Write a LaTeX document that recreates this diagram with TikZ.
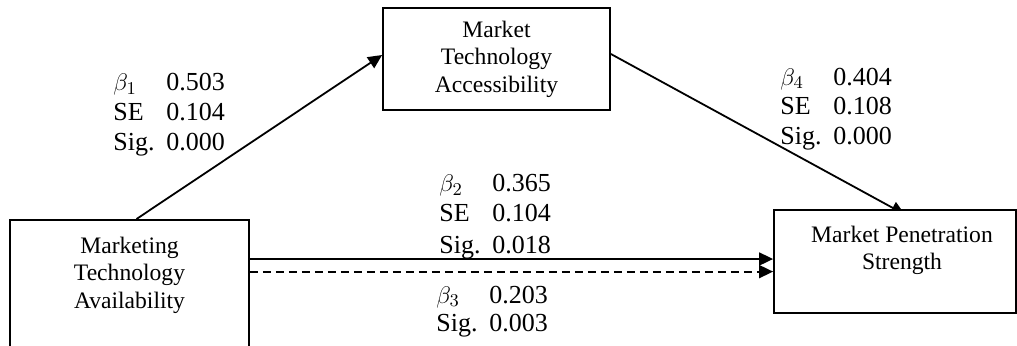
\documentclass[tikz,border=0pt]{standalone}
\usepackage{fontspec}
\setmainfont{Liberation Serif}
\usetikzlibrary{arrows.meta,positioning,calc,backgrounds}

\begin{document}
\begin{tikzpicture}[x=0.5pt,y=-0.5pt,
  box/.style={draw,fill=white,line width=0.9pt,inner sep=0pt},
  boxtext/.style={align=center,inner sep=0pt,font=\fontsize{11.8}{13.7}\selectfont},
  stats/.style={inner sep=0pt,anchor=base west,font=\fontsize{13}{14.9}\selectfont},
  arr/.style={line width=0.9pt,-{Triangle[length=7pt,width=6.5pt]}}]

% Page frame
\clip (0,0) rectangle (1017,345);

% Boxes
\node[box,minimum width=119.5pt,minimum height=90pt,anchor=north] (mtav) at (129.5,219) {};
\node[boxtext,below=8.8pt of mtav.north] (mtavtext) {Marketing\\Technology\\Availability};

\node[box,boxtext,minimum width=113.5pt,minimum height=51pt] (mta) at (496.5,59) {Market\\Technology\\Accessibility};

\node[box,minimum width=121pt,minimum height=51.5pt] (mps) at (895,261.5) {};
\node[boxtext,below=8.2pt of mps.north,xshift=3.5pt] (mpstext) {Market Penetration\\Strength};

% Paths
\draw[arr] ([xshift=3.5pt]mtav.north) -- ([yshift=2pt]mta.west);

\coordinate (a4) at ([yshift=2.5pt]mta.east);
\begin{scope}[on background layer]
\draw[arr] (a4) -- ($(a4)!1.035!(mps.north)$);
\end{scope}

\coordinate (s2) at ([yshift=-20pt]mtav.north east);
\coordinate (s3) at ([yshift=-26.3pt]mtav.north east);
\draw[arr] (s2) -- (s2 -| mps.west);
\draw[arr,dash pattern=on 4pt off 2.5pt] (s3) -- (s3 -| mps.west);

% Coefficients
\node[stats] (b1) at (113,90.7) {\begin{tabular}[t]{@{}l@{\hspace{5.9pt}}l@{}}$\beta_1$ & 0.503\\ SE & 0.104\\ Sig. & 0.000\end{tabular}};
\node[stats] (b2) at (439,191.7) {\begin{tabular}[t]{@{}l@{\hspace{5.9pt}}l@{}}$\beta_2$ & 0.365\\ SE & 0.104\\[1.2pt] Sig. & 0.018\end{tabular}};
\node[stats] (b3) at (436,303) {\begin{tabular}[t]{@{}l@{\hspace{5.9pt}}l@{}}$\beta_3$ & 0.203\\[-0.5pt] Sig. & 0.003\end{tabular}};
\node[stats] (b4) at (780,85) {\begin{tabular}[t]{@{}l@{\hspace{5.9pt}}l@{}}$\beta_4$ & 0.404\\ SE & 0.108\\ Sig. & 0.000\end{tabular}};

\end{tikzpicture}
\end{document}
